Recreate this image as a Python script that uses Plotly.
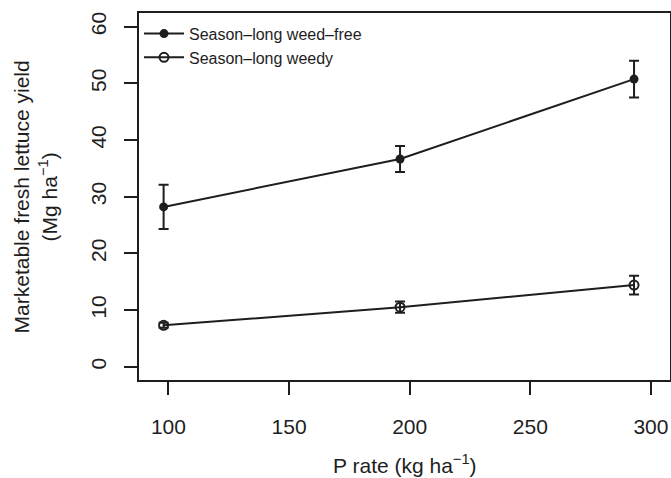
import plotly.graph_objects as go

p_rate = [98, 196, 293]
weed_free = [28.2, 36.65, 50.75]
weed_free_err = [3.9, 2.3, 3.25]
weedy = [7.3, 10.5, 14.4]
weedy_err = [0.45, 1.0, 1.65]
series_names = ["Season\u2013long weed\u2013free", "Season\u2013long weedy"]
x_ticks = [100, 150, 200, 250, 300]
y_ticks = [0, 10, 20, 30, 40, 50, 60]

ink = "#1e1e1e"
font = "Liberation Sans, Arial, Helvetica, sans-serif"

fig = go.Figure()
fig.add_trace(go.Scatter(
    x=p_rate, y=weed_free, name=series_names[0], mode="lines+markers",
    line=dict(color=ink, width=2),
    marker=dict(symbol="circle", size=9, color=ink),
    error_y=dict(type="data", array=weed_free_err, visible=True, color=ink, thickness=2, width=5),
))
fig.add_trace(go.Scatter(
    x=p_rate, y=weedy, name=series_names[1], mode="lines+markers",
    line=dict(color=ink, width=2),
    marker=dict(symbol="circle-open", size=9, color=ink, line=dict(width=2, color=ink)),
    error_y=dict(type="data", array=weedy_err, visible=True, color=ink, thickness=2, width=5),
))

fig.update_layout(
    width=671, height=478,
    margin=dict(l=139, r=1, t=13, b=98, autoexpand=False),
    paper_bgcolor="white", plot_bgcolor="white",
    font=dict(family=font, color=ink, size=21),
    showlegend=True,
    legend=dict(x=0.0, y=0.99, xanchor="left", yanchor="top", bgcolor="rgba(0,0,0,0)",
                font=dict(size=16, family=font, color=ink), borderwidth=0,
                tracegroupgap=0, itemwidth=40),
    xaxis=dict(range=[87.8, 307.9], tickvals=x_ticks, ticks="outside", ticklen=13, tickwidth=2,
               tickcolor=ink, showline=True, linecolor=ink, linewidth=2, mirror=True,
               showgrid=False, zeroline=False, tickfont=dict(size=21), ticklabelstandoff=14,
               automargin=False),
    yaxis=dict(range=[-2.35, 62.42], tickvals=y_ticks, ticks="outside", ticklen=13, tickwidth=2,
               tickcolor=ink, showline=True, linecolor=ink, linewidth=2, mirror=True,
               showgrid=False, zeroline=False, tickangle=-90, tickfont=dict(size=21),
               ticklabelstandoff=10, automargin=False),
    annotations=[
        dict(text="P rate (kg ha<sup>\u22121</sup>)", xref="paper", yref="paper",
             x=0.5, y=-0.228, xanchor="center", yanchor="middle", showarrow=False,
             font=dict(size=21, family=font, color=ink)),
        dict(text="Marketable fresh lettuce yield<br>(Mg ha<sup>\u22121</sup>)", xref="paper", yref="paper",
             x=-0.196, y=0.5, xanchor="center", yanchor="middle", showarrow=False, textangle=-90,
             font=dict(size=21, family=font, color=ink)),
    ],
)

fig.write_html("out.html", config={"displayModeBar": False},
               post_script="document.body.style.margin='0';document.body.style.overflow='hidden';")
